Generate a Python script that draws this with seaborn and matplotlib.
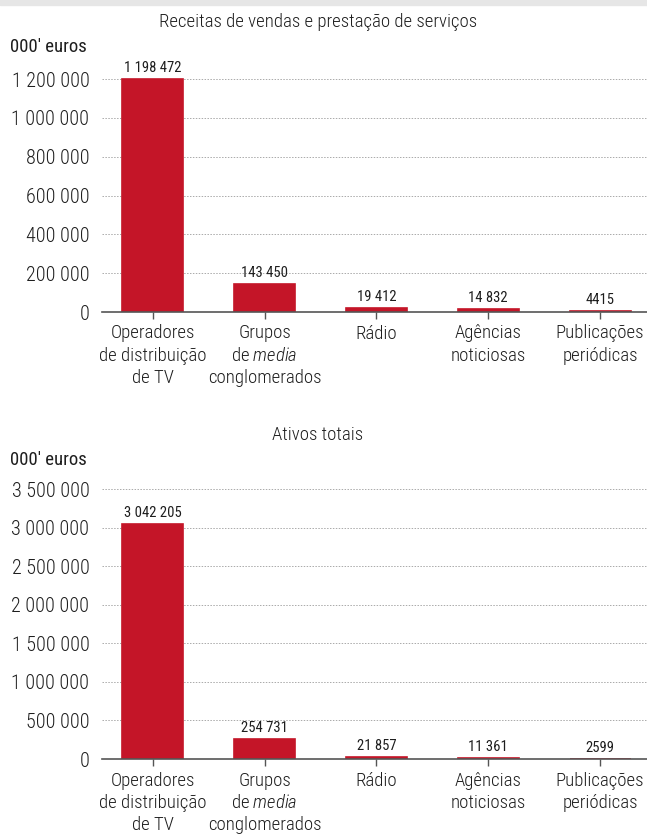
import matplotlib
matplotlib.use("Agg")
import matplotlib.pyplot as plt
import seaborn as sns
import pandas as pd
from matplotlib.patches import Rectangle

categories = ["Operadores\nde distribuição\nde TV",
              "Grupos\nde $\\it{media}$\nconglomerados",
              "Rádio", "Agências\nnoticiosas", "Publicações\nperiódicas"]
receitas = [1198472, 143450, 19412, 14832, 4415]
ativos = [3042205, 254731, 21857, 11361, 2599]
title1 = "Receitas de vendas e prestação de serviços"
title2 = "Ativos totais"
unit = "000' euros"
ticks1 = [0, 200000, 400000, 600000, 800000, 1000000, 1200000]
ticks2 = [0, 500000, 1000000, 1500000, 2000000, 2500000, 3000000, 3500000]

sns.set_theme(style="white")
fam = "Roboto Condensed"
plt.rcParams['font.family'] = [fam, 'DejaVu Sans']
plt.rcParams['font.weight'] = 'light'
plt.rcParams['mathtext.fontset'] = 'custom'
plt.rcParams['mathtext.it'] = fam + ':italic:light'
plt.rcParams['mathtext.rm'] = fam + ':light'

BAR = "#c41528"
TXT = "#1e1e1e"

def fmt(v):
    if v < 10000:
        return str(v)
    return f"{v:,}".replace(",", " ")

fig = plt.figure(figsize=(6.47, 8.38), dpi=100)
fig.patches.append(Rectangle((0, 1 - 5 / 838), 1, 5 / 838, transform=fig.transFigure,
                             color="#e6e6e6", zorder=0))

def panel(rect, values, ticks, ymax, title, ty, uy):
    ax = fig.add_axes(rect)
    df = pd.DataFrame({"cat": categories, "val": values})
    sns.barplot(data=df, x="cat", y="val", color=BAR, width=0.545, ax=ax, saturation=1,
                edgecolor=BAR, linewidth=1.2)
    ax.set_xlim(-0.455, 4.42)
    ax.set_ylim(0, ymax)
    ax.set_yticks(ticks)
    ax.set_yticklabels([fmt(t) for t in ticks], fontsize=14.5, color=TXT)
    ax.set_xlabel("")
    ax.set_ylabel("")
    for t in ticks[1:]:
        ax.axhline(t, color="#aaaaaa", lw=0.7, ls=(0, (1.5, 1.5)), zorder=0)
    for s in ["top", "right", "left"]:
        ax.spines[s].set_visible(False)
    ax.spines["bottom"].set_color("#555555")
    ax.spines["bottom"].set_linewidth(1.2)
    ax.spines["bottom"].set_zorder(5)
    ax.tick_params(axis="y", length=0, pad=9)
    ax.tick_params(axis="x", length=5, width=1, color="#555555", labelsize=13.5,
                   labelcolor=TXT, pad=4, bottom=True)
    plt.setp(ax.get_xticklabels(), linespacing=1.3)
    for i, v in enumerate(values):
        ax.annotate(fmt(v), (i, v), xytext=(0, 3), textcoords="offset points",
                    ha="center", va="bottom", fontsize=10.5, color=TXT, weight="normal")
    fig.text(318 / 647, 1 - ty / 838, title, ha="center", va="center", fontsize=13.5, color=TXT)
    fig.text(10 / 647, 1 - uy / 838, unit, ha="left", va="center", fontsize=13.5,
             color=TXT, weight="normal")
    return ax

left = 102 / 647
width = 1 - left
ymax1 = 1290000
h1 = ymax1 / 200000 * 38.83 / 838
panel([left, 1 - 312 / 838, width, h1], receitas, ticks1, ymax1, title1, 22, 47)
ymax2 = 3700000
h2 = ymax2 / 500000 * 38.57 / 838
panel([left, 1 - 759 / 838, width, h2], ativos, ticks2, ymax2, title2, 435, 460)

fig.savefig("out.png", dpi=100)
